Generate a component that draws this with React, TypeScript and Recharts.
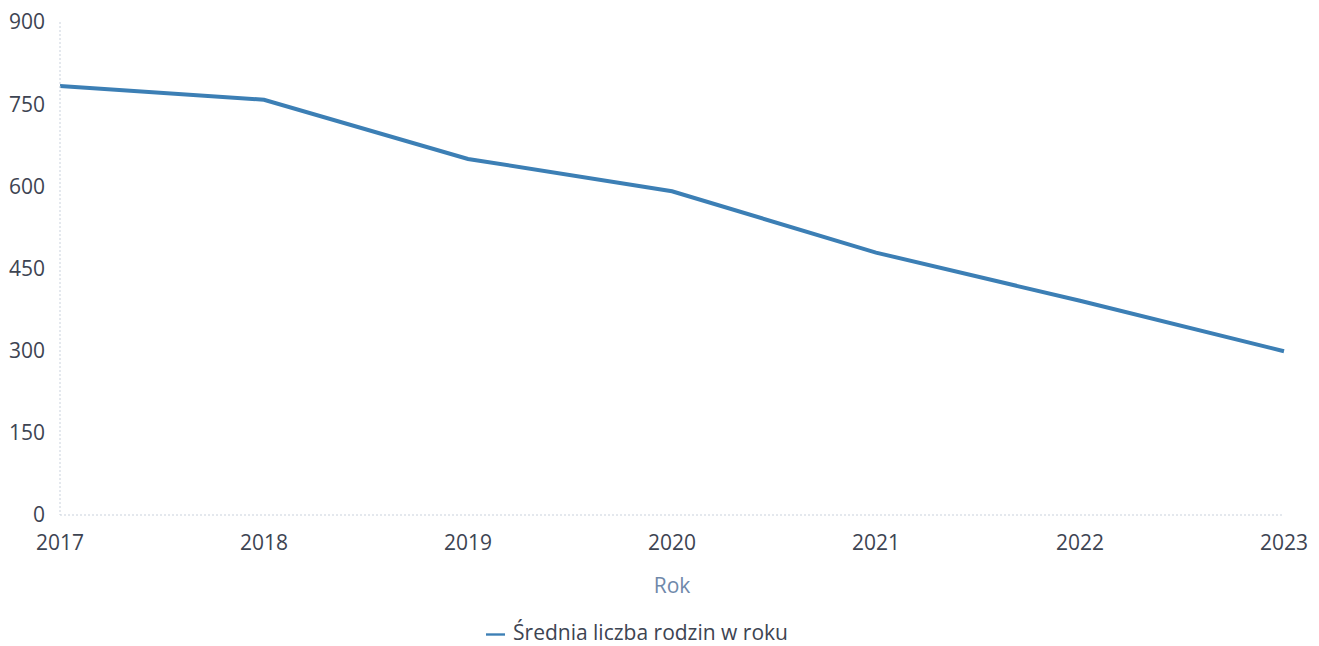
import { LineChart, Line, XAxis, YAxis, Legend } from 'recharts'

const years = ['2017', '2018', '2019', '2020', '2021', '2022', '2023']
const avgFamilies = [783, 758, 650, 591, 479, 391, 299]
const yTicks = [0, 150, 300, 450, 600, 750, 900]

const data = years.map((year, i) => ({ year, value: avgFamilies[i] }))

const font = '"Open Sans", "Noto Sans", sans-serif'
const tickColor = '#3d4452'
const lineColor = '#3c7fb5'

export default function App() {
  return (
    <div style={{ width: 1319, height: 646, fontFamily: font }}>
      <style>{'body{margin:0;background:#fff}'}</style>
      <LineChart width={1319} height={646} data={data} margin={{ top: 22, right: 35, left: 0, bottom: 0 }}>
        <XAxis
          dataKey="year"
          height={95}
          axisLine={{ stroke: '#c9d1dc', strokeDasharray: '2 2' }}
          tickLine={false}
          tickMargin={14}
          tick={{ fill: tickColor, fontSize: 21, fontFamily: font }}
          interval={0}
          label={{ value: 'Rok', position: 'insideBottom', offset: 17, fill: '#6f88aa', fontSize: 21, fontFamily: font }}
        />
        <YAxis
          domain={[0, 900]}
          ticks={yTicks}
          width={60}
          axisLine={{ stroke: '#c9d1dc', strokeDasharray: '2 2' }}
          tickLine={false}
          tickMargin={9}
          tick={{ fill: tickColor, fontSize: 21, fontFamily: font }}
        />
        <Legend
          verticalAlign="bottom"
          height={36}
          iconType="plainline"
          iconSize={19}
          wrapperStyle={{ top: 618, fontFamily: font, fontSize: 21 }}
          formatter={(v) => <span style={{ color: tickColor, marginLeft: 4 }}>{v}</span>}
        />
        <Line
          type="linear"
          dataKey="value"
          name="Średnia liczba rodzin w roku"
          stroke={lineColor}
          strokeWidth={4}
          dot={false}
          activeDot={false}
          isAnimationActive={false}
        />
      </LineChart>
    </div>
  )
}
